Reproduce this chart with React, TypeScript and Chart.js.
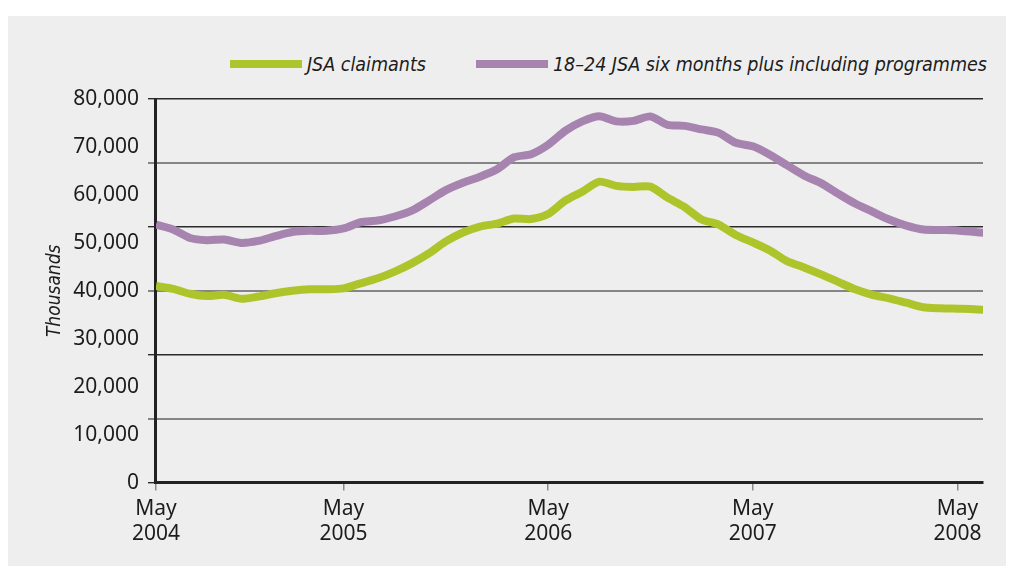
import React, { useEffect, useRef } from 'react';
import { Chart, registerables } from 'chart.js';

Chart.register(...registerables);

// ---- data ----
const seriesNames = ['JSA claimants', '18–24 JSA six months plus including programmes'];
const seriesColors = ['#adc52a', '#a783b0'];

// monthly values, first point at the axis start
const jsaClaimants = [
  41000, 40420, 39380, 38900, 39170, 38340, 38800, 39480, 40000, 40310,
  40310, 40500, 41560, 42600, 44000, 45720, 47800, 50290, 52160, 53400,
  54030, 55070, 54960, 56000, 58800, 60680, 62760, 61880, 61660, 61720,
  59430, 57460, 54860, 53820, 51640, 50080, 48420, 46200, 44880, 43430,
  41870, 40310, 39170, 38440, 37510, 36570, 36360, 36260, 36160, 35950,
];
const youthSixMonthsPlus = [
  53800, 52800, 51000, 50560, 50700, 49980, 50400, 51400, 52260, 52500,
  52500, 53000, 54300, 54650, 55500, 56700, 58800, 61000, 62550, 63800,
  65350, 67850, 68470, 70450, 73350, 75330, 76400, 75330, 75430, 76370,
  74600, 74400, 73660, 72940, 70860, 70130, 68370, 66200, 64050, 62450,
  60260, 58190, 56520, 54860, 53600, 52780, 52680, 52570, 52260, 51950,
];

const xTickMonths = [0, 11, 23, 35, 47];
const xTickLabels = [
  ['May', '2004'],
  ['May', '2005'],
  ['May', '2006'],
  ['May', '2007'],
  ['May', '2008'],
];
const xMax = 48.5;
const yMin = 0;
const yMax = 80000;
const yLabelStep = 10000;
const gridIntervals = 6;

const sansFont = '"Noto Sans", sans-serif';
const narrowFont = '"Liberation Sans Narrow", "DejaVu Sans Condensed", "Noto Sans", sans-serif';
const textColor = '#1c1c1c';

export default function App() {
  const canvasRef = useRef<HTMLCanvasElement | null>(null);

  useEffect(() => {
    if (!canvasRef.current) return;
    const series = [jsaClaimants, youthSixMonthsPlus];
    const chart = new Chart(canvasRef.current, {
      type: 'line',
      data: {
        datasets: series.map((vals, s) => ({
          label: seriesNames[s],
          data: vals.map((v, i) => ({ x: i, y: v })),
          borderColor: seriesColors[s],
          backgroundColor: seriesColors[s],
          borderWidth: 8,
          pointRadius: 0,
          tension: 0.25,
          borderJoinStyle: 'round' as const,
          clip: 0,
        })),
      },
      options: {
        animation: false,
        responsive: true,
        maintainAspectRatio: false,
        devicePixelRatio: 1,
        layout: { padding: { left: 28, right: 23, top: 83, bottom: 13 } },
        plugins: {
          legend: { display: false },
          tooltip: { enabled: false },
        },
        scales: {
          x: {
            type: 'linear',
            min: 0,
            max: xMax,
            afterBuildTicks: (scale: any) => {
              scale.ticks = xTickMonths.map((v) => ({ value: v }));
            },
            ticks: {
              autoSkip: false,
              maxRotation: 0,
              padding: 6,
              color: textColor,
              font: { family: sansFont, size: 21, lineHeight: 1.2 },
              callback: (_v: any, i: number) => xTickLabels[i],
            },
            grid: {
              drawOnChartArea: false,
              drawTicks: true,
              tickLength: 8,
              color: '#8a8a8a',
              lineWidth: 1.5,
            },
            border: { display: true, color: '#222222', width: 3 },
          },
          y: {
            position: 'left',
            weight: 1,
            min: yMin,
            max: yMax,
            ticks: {
              stepSize: yLabelStep,
              padding: 9,
              color: textColor,
              font: { family: sansFont, size: 21 },
              callback: (v: any) => Number(v).toLocaleString('en-GB'),
            },
            grid: { display: false, drawTicks: false },
            border: { display: false },
            title: {
              display: true,
              text: 'Thousands',
              color: textColor,
              font: { family: narrowFont, size: 19, style: 'italic' },
              padding: { top: 8, bottom: -2.5 },
            },
          },
          y2: {
            position: 'left',
            weight: 0,
            min: yMin,
            max: yMax,
            afterBuildTicks: (scale: any) => {
              const t = [];
              for (let i = 0; i <= gridIntervals; i++) t.push({ value: (i * (yMax - yMin)) / gridIntervals });
              scale.ticks = t;
            },
            ticks: { display: false },
            grid: {
              drawTicks: true,
              tickLength: 8,
              color: (c: any) => (c.index % 2 === 0 ? '#2b2b2b' : '#858585'),
              lineWidth: (c: any) => (c.index % 2 === 0 ? 1.4 : 2),
            },
            border: { display: true, color: '#222222', width: 3 },
          },
        },
      } as any,
    });
    return () => chart.destroy();
  }, []);

  return (
    <div
      style={{
        position: 'absolute',
        left: 8,
        top: 16,
        width: 998,
        height: 550,
        background: '#eeeeee',
      }}
    >
      <div
        style={{
          position: 'absolute',
          right: 19,
          top: 36,
          height: 24,
          display: 'flex',
          alignItems: 'center',
          fontFamily: narrowFont,
          fontStyle: 'italic',
          fontSize: 19.5,
          color: textColor,
          whiteSpace: 'nowrap',
        }}
      >
        {seriesNames.map((name, i) => (
          <div key={name} style={{ display: 'flex', alignItems: 'center', marginLeft: i === 0 ? 0 : 50 }}>
            <span style={{ display: 'inline-block', width: 72, height: 8, background: seriesColors[i], marginRight: 5 }} />
            <span>{name}</span>
          </div>
        ))}
      </div>
      <canvas ref={canvasRef} style={{ position: 'absolute', left: 0, top: 0 }} />
    </div>
  );
}
